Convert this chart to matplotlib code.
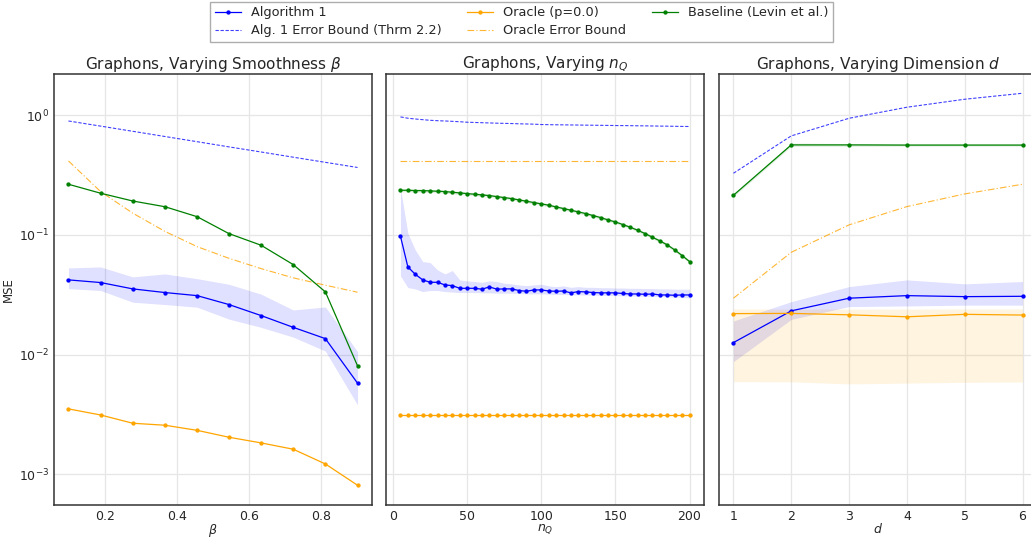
import numpy as np
import matplotlib.pyplot as plt
from matplotlib.ticker import NullLocator

# ---- panel 1: varying smoothness beta ----
beta = [0.1, 0.189, 0.278, 0.367, 0.456, 0.544, 0.633, 0.722, 0.811, 0.9]
alg1_beta = [0.0421, 0.040, 0.0354, 0.033, 0.0311, 0.0262, 0.0212, 0.0169, 0.0136, 0.00577]
alg1_beta_lo = [0.0356, 0.0343, 0.0274, 0.0262, 0.0249, 0.0198, 0.0169, 0.014, 0.0107, 0.0038]
alg1_beta_hi = [0.053, 0.054, 0.0446, 0.0472, 0.0431, 0.0387, 0.032, 0.0236, 0.025, 0.0106]
alg1_bound_beta = [0.895, 0.811, 0.734, 0.664, 0.601, 0.544, 0.493, 0.446, 0.404, 0.366]
oracle_beta = [0.00352, 0.00313, 0.00267, 0.00257, 0.00233, 0.00204, 0.00183, 0.00162, 0.00122, 0.00081]
oracle_bound_beta = [0.415, 0.23, 0.152, 0.107, 0.0798, 0.0638, 0.0523, 0.0438, 0.038, 0.0332]
base_beta = [0.265, 0.223, 0.192, 0.172, 0.142, 0.1026, 0.082, 0.0565, 0.0334, 0.00805]

# ---- panel 2: varying n_Q ----
nq = list(range(5, 205, 5))
alg1_nq = [0.0975, 0.0540, 0.0469, 0.0421, 0.0402, 0.0402, 0.0382, 0.0377, 0.0358, 0.0358,
           0.0358, 0.0352, 0.0368, 0.0352, 0.0354, 0.0354, 0.0343, 0.0338, 0.0347, 0.0347,
           0.0340, 0.0338, 0.0340, 0.0328, 0.0336, 0.0334, 0.0330, 0.0328, 0.0328, 0.0328,
           0.0324, 0.0321, 0.0321, 0.0319, 0.0321, 0.0315, 0.0315, 0.0313, 0.0315, 0.0315]
alg1_nq_hi = [0.2454, 0.1032, 0.0749, 0.0599, 0.0587, 0.0510, 0.0472, 0.0504, 0.0421, 0.0413,
              0.0408, 0.0402, 0.0413, 0.0408, 0.0395, 0.0390, 0.0382, 0.0377, 0.0382, 0.0387,
              0.0375, 0.0370, 0.0375, 0.0365, 0.0370, 0.0365, 0.0365, 0.0362, 0.0362, 0.0360,
              0.0360, 0.0358, 0.0358, 0.0356, 0.0356, 0.0354, 0.0354, 0.0352, 0.0352, 0.0352]
alg1_nq_lo = [0.0455, 0.0363, 0.0354, 0.0336, 0.0343, 0.0343, 0.0336, 0.0333, 0.0330, 0.0330,
              0.0330, 0.0328, 0.0328, 0.0326, 0.0326, 0.0326, 0.0324, 0.0322, 0.0322, 0.0322,
              0.0320, 0.0318, 0.0318, 0.0316, 0.0316, 0.0315, 0.0314, 0.0313, 0.0312, 0.0311,
              0.0310, 0.0309, 0.0308, 0.0307, 0.0306, 0.0305, 0.0304, 0.0302, 0.0300, 0.0298]
alg1_bound_nq = [0.968, 0.944, 0.930, 0.918, 0.907, 0.900, 0.895, 0.889, 0.882, 0.874,
                 0.870, 0.866, 0.862, 0.858, 0.855, 0.852, 0.848, 0.845, 0.842, 0.836,
                 0.834, 0.832, 0.831, 0.829, 0.828, 0.826, 0.825, 0.823, 0.822, 0.820,
                 0.819, 0.818, 0.816, 0.815, 0.813, 0.811, 0.810, 0.808, 0.806, 0.805]
oracle_nq = [0.00313] * 40
oracle_bound_nq = [0.412] * 40
base_nq = [0.236, 0.236, 0.2346, 0.2346, 0.2331, 0.2316, 0.2302, 0.2272, 0.2243, 0.2214,
           0.2186, 0.2158, 0.2130, 0.2090, 0.2050, 0.2011, 0.1960, 0.1911, 0.1863, 0.1816,
           0.1770, 0.1714, 0.1660, 0.1607, 0.1557, 0.1507, 0.1450, 0.1396, 0.1334, 0.1284,
           0.1220, 0.1159, 0.1094, 0.1026, 0.0956, 0.0891, 0.0825, 0.0749, 0.0672, 0.0599]

# ---- panel 3: varying dimension d ----
dims = [1, 2, 3, 4, 5, 6]
alg1_d = [0.0126, 0.0232, 0.0296, 0.0311, 0.0305, 0.0307]
alg1_d_hi = [0.0191, 0.0277, 0.0370, 0.0421, 0.0390, 0.0408]
alg1_d_lo = [0.00874, 0.0197, 0.0252, 0.0255, 0.0259, 0.0259]
alg1_bound_d = [0.3275, 0.672, 0.943, 1.166, 1.36, 1.526]
oracle_d = [0.0220, 0.0221, 0.0215, 0.0207, 0.0217, 0.0214]
oracle_d_hi = [0.0241, 0.0240, 0.0240, 0.0240, 0.0241, 0.0241]
oracle_d_lo = [0.00595, 0.00592, 0.00569, 0.00578, 0.00587, 0.0059]
oracle_bound_d = [0.0296, 0.0716, 0.1213, 0.1725, 0.220, 0.265]
base_d = [0.2145, 0.565, 0.565, 0.563, 0.563, 0.563]
base_d_hi = [0.22, 0.585, 0.58, 0.575, 0.575, 0.575]
base_d_lo = [0.209, 0.55, 0.55, 0.552, 0.552, 0.552]

TXT = '#262626'
plt.rcParams['text.color'] = TXT
plt.rcParams['axes.labelcolor'] = TXT
plt.rcParams['xtick.color'] = TXT
plt.rcParams['ytick.color'] = TXT

fig = plt.figure(figsize=(10.31, 5.38), dpi=100)
W = 318 / 1031
B = 1 - 505 / 538
H = (505 - 74) / 538
lefts = [54 / 1031, 386 / 1031, 719 / 1031]
axes = [fig.add_axes([l, B, W, H]) for l in lefts]


def draw(ax, x, alg, alo, ahi, abound, orc, obound, base, olo=None, ohi=None, blo=None, bhi=None):
    ax.plot(x, alg, color='blue', marker='o', ms=2.1, lw=0.9, label='Algorithm 1')
    ax.fill_between(x, alo, ahi, color='blue', alpha=0.12, lw=0)
    ax.plot(x, abound, color='blue', ls=(0, (3, 1.5)), lw=0.8, alpha=0.75,
            label='Alg. 1 Error Bound (Thrm 2.2)')
    ax.plot(x, orc, color='orange', marker='o', ms=2.1, lw=0.9, label='Oracle (p=0.0)')
    if olo is not None:
        ax.fill_between(x, olo, ohi, color='orange', alpha=0.12, lw=0)
    ax.plot(x, obound, color='orange', ls=(0, (6, 2, 1, 2)), lw=0.8, alpha=0.8,
            label='Oracle Error Bound')
    ax.plot(x, base, color='green', marker='o', ms=2.1, lw=0.9, label='Baseline (Levin et al.)')
    if blo is not None:
        ax.fill_between(x, blo, bhi, color='green', alpha=0.12, lw=0)


draw(axes[0], beta, alg1_beta, alg1_beta_lo, alg1_beta_hi, alg1_bound_beta,
     oracle_beta, oracle_bound_beta, base_beta)
base_nq_lo = [v * 0.97 for v in base_nq]
base_nq_hi = [v * 1.03 for v in base_nq]
draw(axes[1], nq, alg1_nq, alg1_nq_lo, alg1_nq_hi, alg1_bound_nq,
     oracle_nq, oracle_bound_nq, base_nq, blo=base_nq_lo, bhi=base_nq_hi)
draw(axes[2], dims, alg1_d, alg1_d_lo, alg1_d_hi, alg1_bound_d,
     oracle_d, oracle_bound_d, base_d, olo=oracle_d_lo, ohi=oracle_d_hi,
     blo=base_d_lo, bhi=base_d_hi)

titles = [r'Graphons, Varying Smoothness $\beta$', r'Graphons, Varying $n_Q$',
          r'Graphons, Varying Dimension $d$']
xlabels = [r'$\beta$', r'$n_Q$', r'$d$']
for i, ax in enumerate(axes):
    ax.set_yscale('log')
    ax.set_ylim(5.54e-4, 2.21)
    ax.yaxis.set_minor_locator(NullLocator())
    ax.grid(True, color='#e6e6e6', lw=0.9)
    ax.set_axisbelow(True)
    ax.tick_params(length=0, labelsize=9, pad=3.5)
    for s in ax.spines.values():
        s.set_color('#333333')
        s.set_linewidth(1.1)
    ax.set_title(titles[i], fontsize=11, pad=3)
    ax.set_xlabel(xlabels[i], fontsize=9, labelpad=-0.5)
    if i > 0:
        ax.tick_params(labelleft=False)
axes[0].set_ylabel('MSE', fontsize=8.5, labelpad=3)
axes[0].set_xticks([0.2, 0.4, 0.6, 0.8])
axes[1].set_xticks([0, 50, 100, 150, 200])
axes[2].set_xticks(dims)

h, l = axes[0].get_legend_handles_labels()
fig.legend(h, l, loc='upper center', bbox_to_anchor=(0.506, 0.9968), ncol=3,
           fontsize=9.25, frameon=True, fancybox=False, edgecolor='#999999',
           borderpad=0.35, labelspacing=0.4, columnspacing=2.0,
           handlelength=2.0, handletextpad=0.8, borderaxespad=0)

fig.savefig('out.png', dpi=100)
